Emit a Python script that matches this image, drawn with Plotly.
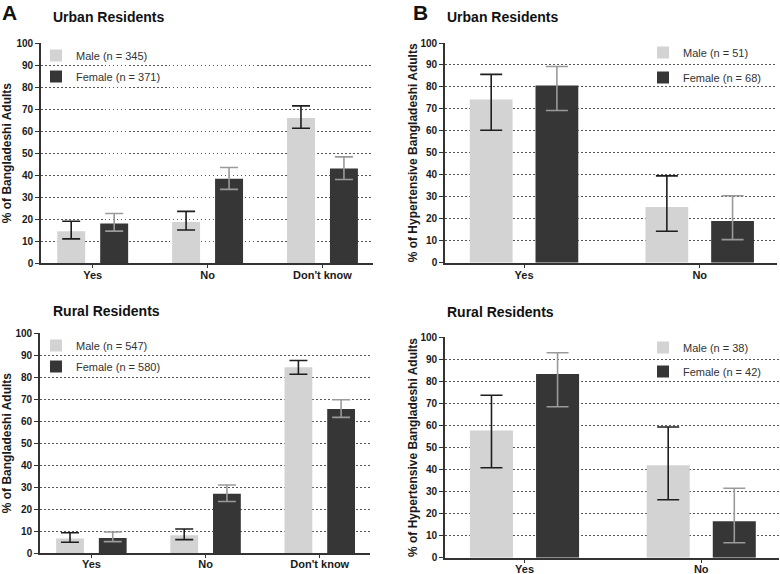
import plotly.graph_objects as go

# ---------------- data ----------------
cats_a = ["Yes", "No", "Don't know"]
cats_b = ["Yes", "No"]

# Panel A – Urban
urban_a_male = [14.5, 18.7, 66.0]
urban_a_male_lo = [11.0, 15.0, 61.3]
urban_a_male_hi = [19.0, 23.5, 71.5]
urban_a_female = [18.0, 38.3, 43.0]
urban_a_female_lo = [14.5, 33.5, 38.0]
urban_a_female_hi = [22.5, 43.5, 48.3]

# Panel A – Rural
rural_a_male = [6.7, 8.2, 84.5]
rural_a_male_lo = [5.0, 6.2, 81.3]
rural_a_male_hi = [9.3, 11.0, 87.5]
rural_a_female = [7.0, 27.0, 65.5]
rural_a_female_lo = [5.3, 23.5, 61.7]
rural_a_female_hi = [9.7, 31.0, 69.7]

# Panel B – Urban
urban_b_male = [74.3, 25.3]
urban_b_male_lo = [60.3, 14.3]
urban_b_male_hi = [85.7, 39.5]
urban_b_female = [80.7, 19.0]
urban_b_female_lo = [69.3, 10.5]
urban_b_female_hi = [89.3, 30.5]

# Panel B – Rural
rural_b_male = [57.7, 42.0]
rural_b_male_lo = [40.8, 26.3]
rural_b_male_hi = [73.7, 59.3]
rural_b_female = [83.3, 16.5]
rural_b_female_lo = [68.5, 6.8]
rural_b_female_hi = [93.0, 31.5]

legend_names = {
    "ua": ("Male (n = 345)", "Female (n = 371)"),
    "ra": ("Male (n = 547)", "Female (n = 580)"),
    "ub": ("Male (n = 51)", "Female (n = 68)"),
    "rb": ("Male (n = 38)", "Female (n = 42)"),
}

# ---------------- style ----------------
FONT = "Liberation Sans, Arial, sans-serif"
MALE_C = "#d3d3d3"
FEMALE_C = "#363636"
MALE_ERR = "#1e1e1e"
FEMALE_ERR = "#9a9a9a"
AXIS_C = "#333333"

fig = go.Figure()

panels = [
    ("ua", cats_a, urban_a_male, urban_a_male_lo, urban_a_male_hi,
     urban_a_female, urban_a_female_lo, urban_a_female_hi, "x", "y", "legend", 9),
    ("ra", cats_a, rural_a_male, rural_a_male_lo, rural_a_male_hi,
     rural_a_female, rural_a_female_lo, rural_a_female_hi, "x2", "y2", "legend2", 9),
    ("ub", cats_b, urban_b_male, urban_b_male_lo, urban_b_male_hi,
     urban_b_female, urban_b_female_lo, urban_b_female_hi, "x3", "y3", "legend3", 11),
    ("rb", cats_b, rural_b_male, rural_b_male_lo, rural_b_male_hi,
     rural_b_female, rural_b_female_lo, rural_b_female_hi, "x4", "y4", "legend4", 11),
]

for key, cats, m, mlo, mhi, f, flo, fhi, xa, ya, lg, cap in panels:
    mname, fname = legend_names[key]
    fig.add_trace(go.Bar(
        x=cats, y=m, name=mname, xaxis=xa, yaxis=ya, legend=lg,
        legendgroup=key + "m",
        marker=dict(color=MALE_C, line=dict(width=0)),
        error_y=dict(type="data", symmetric=False,
                     array=[h - v for h, v in zip(mhi, m)],
                     arrayminus=[v - l for v, l in zip(m, mlo)],
                     color=MALE_ERR, thickness=1.6, width=cap),
    ))
    fig.add_trace(go.Bar(
        x=cats, y=f, name=fname, xaxis=xa, yaxis=ya, legend=lg,
        legendgroup=key + "f",
        marker=dict(color=FEMALE_C, line=dict(width=0)),
        error_y=dict(type="data", symmetric=False,
                     array=[h - v for h, v in zip(fhi, f)],
                     arrayminus=[v - l for v, l in zip(f, flo)],
                     color=FEMALE_ERR, thickness=1.6, width=cap),
    ))

W, H = 780, 574


def px_x(p):
    return p / W


def px_y(p):
    return (H - p) / H


domains = {
    "x": ([px_x(41), px_x(373)], [px_y(263), px_y(43.3)]),
    "x2": ([px_x(40), px_x(370)], [px_y(553.3), px_y(333)]),
    "x3": ([px_x(445), px_x(777)], [px_y(262.7), px_y(43)]),
    "x4": ([px_x(445), px_x(779)], [px_y(557.7), px_y(337.3)]),
}

ytitles = {
    "y": ("% of Bangladeshi Adults", 12, 3),
    "y2": ("% of Bangladeshi Adults", 12, 3),
    "y3": ("% of Hypertensive Bangladeshi Adults", 12, 0),
    "y4": ("% of Hypertensive Bangladeshi Adults", 12, 0),
}

layout = dict(
    width=W, height=H,
    margin=dict(l=0, r=0, t=0, b=0),
    paper_bgcolor="white", plot_bgcolor="white",
    barmode="group", bargap=0.252, bargroupgap=0.349,
    font=dict(family=FONT, color="#222222"),
    showlegend=True,
)

for i, (xk, yk) in enumerate([("x", "y"), ("x2", "y2"), ("x3", "y3"), ("x4", "y4")]):
    xd, yd = domains[xk]
    n = 3 if i < 2 else 2
    axx = "xaxis" if i == 0 else f"xaxis{i+1}"
    axy = "yaxis" if i == 0 else f"yaxis{i+1}"
    ttext, tsize, tstand = ytitles[yk]
    layout[axx] = dict(
        domain=xd, anchor=yk, range=[-0.45, n - 0.56],
        showline=True, linecolor=AXIS_C, linewidth=1.6,
        ticks="outside", ticklen=3, tickcolor=AXIS_C, tickwidth=1.2,
        showgrid=False, zeroline=False, fixedrange=True,
        tickfont=dict(size=11, weight="bold", color="#1a1a1a", family=FONT),
        ticklabelstandoff=-3 if i in (1, 3) else -2,
        automargin=False,
    )
    layout[axy] = dict(
        domain=yd, anchor=xk, range=[0, 100], dtick=10, tick0=0,
        showline=True, linecolor=AXIS_C, linewidth=1.6,
        ticks="outside", ticklen=4, tickcolor=AXIS_C, tickwidth=1.2,
        showgrid=True, gridcolor="#555555", gridwidth=1, griddash="1.5px,2.5px",
        zeroline=False, fixedrange=True,
        tickfont=dict(size=10, weight="bold", color="#1a1a1a", family=FONT),
        title=dict(text=ttext, font=dict(size=tsize, weight="bold", color="#1a1a1a", family=FONT),
                   standoff=tstand),
        automargin=False,
    )

legend_common = dict(
    bgcolor="rgba(0,0,0,0)", borderwidth=0,
    font=dict(size=11, color="#333333", family=FONT),
    xanchor="left", yanchor="top", tracegroupgap=2,
    itemclick=False, itemdoubleclick=False,
)
layout["legend"] = dict(legend_common, x=px_x(36), y=px_y(41))
layout["legend2"] = dict(legend_common, x=px_x(36), y=px_y(331))
layout["legend3"] = dict(legend_common, x=px_x(643), y=px_y(38), tracegroupgap=6)
layout["legend4"] = dict(legend_common, x=px_x(643), y=px_y(333), tracegroupgap=5)

fig.update_layout(**layout)

anns = [
    ("A", 0, 12, 21), ("B", 411, 12, 21),
    ("Urban Residents", 51, 17, 14), ("Rural Residents", 51, 311, 14),
    ("Urban Residents", 445, 17, 14), ("Rural Residents", 445, 312, 14),
]
for text, xp, yp, size in anns:
    fig.add_annotation(
        text=text, x=px_x(xp), y=px_y(yp), xref="paper", yref="paper",
        xanchor="left", yanchor="middle", showarrow=False,
        font=dict(size=size, weight="bold", color="#111111", family=FONT),
    )

fig.write_html(
    "out.html",
    config={"displayModeBar": False},
    post_script="document.body.style.margin='0';document.body.style.overflow='hidden';",
)
